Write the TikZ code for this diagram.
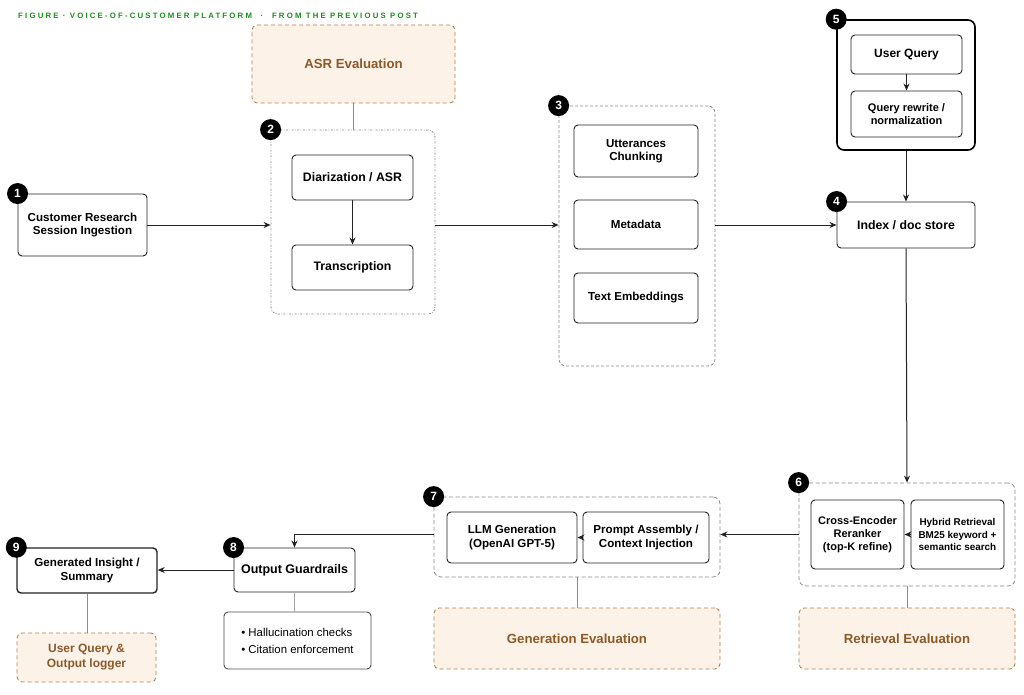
\documentclass[tikz,border=0pt]{standalone}
\usepackage{fontspec}
\setmainfont{Liberation Sans}
\usetikzlibrary{arrows.meta}
\definecolor{brn}{HTML}{8A5A2B}
\definecolor{brnline}{HTML}{B08258}
\definecolor{beige}{HTML}{FCF2E7}
\definecolor{grp}{HTML}{8A8A8A}
\definecolor{hdr}{HTML}{1E8C1E}
\definecolor{ink}{HTML}{222222}
\begin{document}
\begin{tikzpicture}[x=1pt,y=-1pt,
  box/.style={draw=ink,line width=0.9pt,rounded corners=4pt,fill=white,align=center,
    font=\bfseries\fontsize{11.6}{13.5}\selectfont,inner sep=0pt},
  group/.style={draw=grp,line width=0.8pt,rounded corners=7pt,dash pattern=on 3pt off 2pt},
  evalbox/.style={draw=brnline,line width=0.9pt,rounded corners=5pt,fill=beige,dash pattern=on 4pt off 3pt,
    text=brn,align=center,font=\bfseries\fontsize{13.2}{15}\selectfont,inner sep=0pt},
  badge/.style={circle,fill=black,text=white,inner sep=0pt,minimum size=21pt,
    font=\bfseries\fontsize{12}{12}\selectfont},
  arr/.style={draw=ink,line width=1pt,-{Stealth[length=7pt,width=6pt]}},
  link/.style={draw=ink,line width=1pt},
  blink/.style={draw=brnline,line width=1pt},
  glink/.style={draw=black!35,line width=1pt}]
\useasboundingbox[fill=white] (0,0) rectangle (1024,695);

% header
\node[anchor=west,text=hdr,font=\bfseries\fontsize{7.8}{9}\selectfont,inner sep=0pt] (hdr) at (18,16)
  {\addfontfeature{LetterSpace=28}FIGURE · VOICE-OF-CUSTOMER PLATFORM \ · \ FROM THE PREVIOUS POST};

% groups
\node[group,dash pattern=on 2pt off 1.5pt on 0.6pt off 1.5pt,minimum width=164pt,minimum height=184pt,inner sep=0pt] (g2) at (353,222) {};
\node[group,minimum width=156pt,minimum height=260pt,inner sep=0pt] (g3) at (637,236) {};
\node[draw=black,line width=1.6pt,rounded corners=7pt,minimum width=138pt,minimum height=130pt,inner sep=0pt] (g5) at (906,85) {};
\node[group,dash pattern=on 4pt off 2.5pt,minimum width=216pt,minimum height=103pt,inner sep=0pt] (g6) at (907,534.5) {};
\node[group,dash pattern=on 4pt off 2.5pt,minimum width=286pt,minimum height=80pt,inner sep=0pt] (g7) at (577,537) {};

% eval boxes
\node[evalbox,minimum width=203pt,minimum height=78pt] (asr) at (353.5,64) {ASR Evaluation};
\node[evalbox,minimum width=216pt,minimum height=61pt] (reteval) at (907,638.5) {Retrieval Evaluation};
\node[evalbox,minimum width=286pt,minimum height=61pt] (geneval) at (577,638.5) {Generation Evaluation};
\node[evalbox,minimum width=139pt,minimum height=49pt,font=\bfseries\fontsize{12}{15}\selectfont] (logger) at (86.5,657.5) {User Query \&\\Output logger};

% boxes
\node[box,minimum width=129pt,minimum height=62pt] (n1) at (82.5,225) {Customer Research\\Session Ingestion};
\node[box,minimum width=121pt,minimum height=45pt,font=\bfseries\fontsize{12.3}{14}\selectfont] (diar) at (352.5,177.5) {Diarization / ASR};
\node[box,minimum width=121pt,minimum height=45pt,font=\bfseries\fontsize{12.3}{14}\selectfont] (trans) at (352.5,267.5) {Transcription};
\node[box,minimum width=124pt,minimum height=52pt] (utt) at (636,151) {Utterances\\Chunking};
\node[box,minimum width=124pt,minimum height=49pt] (meta) at (636,224.5) {Metadata};
\node[box,minimum width=124pt,minimum height=50pt] (emb) at (636,298) {Text Embeddings};
\node[box,minimum width=111pt,minimum height=39pt,font=\bfseries\fontsize{12}{14}\selectfont] (uq) at (906.5,54.5) {User Query};
\node[box,minimum width=111pt,minimum height=46pt,font=\bfseries\fontsize{11}{13}\selectfont] (qr) at (906.5,114) {Query rewrite /\\normalization};
\node[box,minimum width=138pt,minimum height=46pt,font=\bfseries\fontsize{12.3}{14}\selectfont] (idx) at (906,225) {Index / doc store};
\node[box,minimum width=93pt,minimum height=69pt,font=\bfseries\fontsize{11}{13}\selectfont] (ce) at (857.5,534.5) {Cross-Encoder\\Reranker\\(top-K refine)};
\node[box,minimum width=93pt,minimum height=69pt,font=\bfseries\fontsize{9.9}{12.3}\selectfont] (hy) at (957.5,534.5) {Hybrid Retrieval\\BM25 keyword +\\semantic search};
\node[box,minimum width=130pt,minimum height=51pt] (llm) at (512,537.5) {LLM Generation\\(OpenAI GPT-5)};
\node[box,minimum width=126pt,minimum height=51pt] (pa) at (646,537.5) {Prompt Assembly /\\Context Injection};
\node[box,minimum width=121pt,minimum height=44pt,font=\bfseries\fontsize{12.5}{14}\selectfont] (og) at (294.5,570) {Output Guardrails};
\node[box,line width=1.4pt,minimum width=140pt,minimum height=45pt] (gi) at (87,570.5) {Generated Insight /\\Summary};
\node[box,draw=ink!80,minimum width=147pt,minimum height=57pt,align=left,font=\fontsize{11.4}{17}\selectfont] (bul) at (297.5,640.5)
  {\textbullet\ Hallucination checks\\\textbullet\ Citation enforcement};

% badges
\node[badge] (b1) at (n1.north west) {1};
\node[badge] (b2) at (g2.north west) {2};
\node[badge] (b3) at (g3.north west) {3};
\node[badge] (b4) at (idx.north west) {4};
\node[badge] (b5) at (g5.north west) {5};
\node[badge] (b6) at (g6.north west) {6};
\node[badge] (b7) at (g7.north west) {7};
\node[badge] (b8) at (og.north west) {8};
\node[badge] (b9) at (gi.north west) {9};

% connectors
\draw[arr] (n1.east) -- (g2.west |- n1.east);
\draw[arr] (diar) -- (trans);
\draw[arr] (g2.east |- n1.east) -- (g3.west |- n1.east);
\draw[arr] (g3.east |- idx.west) -- (idx.west);
\draw[arr] (uq) -- (qr);
\draw[arr] (g5.south) -- (idx.north);
\draw[arr] (idx.south) -- (g6.north);
\draw[arr] (hy.west) -- (ce.east);
\draw[arr] (g6.west) -- (g6.west -| g7.east);
\draw[arr] (pa.west) -- (llm.east);
\draw[arr] (g7.west |- g6.west) -| (og.north);
\draw[arr] (og.west) -- (og.west -| gi.east);
\draw[blink] (asr.south) -- (asr.south |- g2.north);
\draw[blink] (g6.south) -- (reteval.north);
\draw[blink] (g7.south) -- (geneval.north);
\draw[blink] (gi.south) -- (gi.south |- logger.north);
\draw[glink] (og.south) -- (og.south |- bul.north);
\end{tikzpicture}
\end{document}
